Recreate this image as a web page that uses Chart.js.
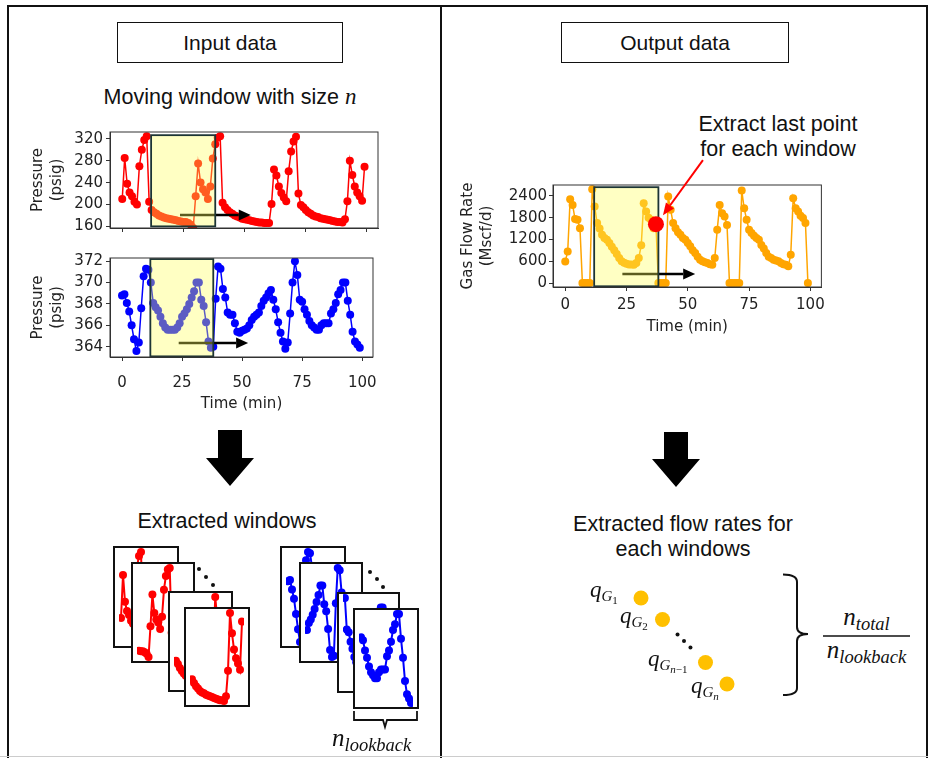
<!DOCTYPE html>
<html>
<head>
<meta charset="UTF-8">
<title>Moving window data extraction</title>
<script src="https://cdn.jsdelivr.net/npm/chart.js@4"></script>
<style>
  body { margin: 0; background: #fff; }
  #page { position: relative; width: 928px; height: 758px; overflow: hidden; font-family: "Liberation Sans", Arial, sans-serif; color: #111; }
  .abs { position: absolute; }
  .frame { position: absolute; left: 7px; top: 5px; width: 917px; height: 770px; border: 2px solid #111; }
  .divider { position: absolute; left: 440px; top: 5px; width: 2px; height: 760px; background: #111; }
  .tbox { position: absolute; top: 22px; height: 39px; border: 1.5px solid #111; font-size: 21px; display: flex; align-items: center; justify-content: center; }
  .lbl { position: absolute; transform: translate(-50%, -50%); white-space: nowrap; font-size: 21.5px; text-align: center; line-height: 25px; }
  .math { font-family: "Liberation Serif", "DejaVu Serif", serif; font-style: italic; white-space: nowrap; position: absolute; line-height: 22px; }
  .math .s1 { font-size: 15px; position: relative; top: 4px; }
  .math .s2 { font-size: 11px; position: relative; top: 3px; font-style: normal; }
  .math .sub { font-size: 18.5px; position: relative; top: 5px; }
  .win { position: absolute; border: 2px solid #111; background: #fff; box-sizing: border-box; }
  .win canvas { display: block; }
  .dot { position: absolute; width: 4px; height: 4px; border-radius: 50%; background: #111; }
  svg { position: absolute; left: 0; top: 0; }
</style>
</head>
<body>
<div id="page">
  <div class="frame"></div>
  <div class="divider"></div>

  <div class="tbox" style="left:117px;width:224px;">Input data</div>
  <div class="tbox" style="left:561px;width:226px;">Output data</div>

  <div class="lbl" style="left:230px;top:97px;">Moving window with size <span style="font-family:'Liberation Serif',serif;font-style:italic;font-size:23px;">n</span></div>
  <div class="lbl" style="left:778px;top:137px;">Extract last point<br>for each window</div>
  <div class="lbl" style="left:227px;top:521px;">Extracted windows</div>
  <div class="lbl" style="left:683px;top:537px;">Extracted flow rates for<br>each windows</div>

  <canvas id="cTop" class="abs" style="left:20px;top:120px;" width="370" height="120"></canvas>
  <canvas id="cBottom" class="abs" style="left:20px;top:246px;" width="370" height="170"></canvas>
  <canvas id="cGas" class="abs" style="left:450px;top:110px;" width="380" height="230"></canvas>

  <!-- extracted windows, back to front -->
  <div class="win red" style="left:113px;top:546px;width:66px;height:102px;"></div>
  <div class="win red" style="left:131px;top:562px;width:64px;height:101px;"></div>
  <div class="win red" style="left:168px;top:591px;width:65px;height:101px;"></div>
  <div class="win red" style="left:184px;top:607px;width:66px;height:100px;"></div>
  <div class="win blue" style="left:280px;top:546px;width:66px;height:102px;"></div>
  <div class="win blue" style="left:299px;top:562px;width:64px;height:101px;"></div>
  <div class="win blue" style="left:337px;top:592px;width:63px;height:101px;"></div>
  <div class="win blue" style="left:353px;top:608px;width:66px;height:101px;"></div>

  <div class="dot" style="left:197px;top:567px;"></div>
  <div class="dot" style="left:204px;top:575px;"></div>
  <div class="dot" style="left:211px;top:583px;"></div>
  <div class="dot" style="left:368px;top:570px;"></div>
  <div class="dot" style="left:375px;top:577px;"></div>
  <div class="dot" style="left:381px;top:585px;"></div>

  <canvas id="cFlow" class="abs" style="left:612px;top:569px;" width="144" height="144"></canvas>

  <div class="math" style="left:590px;top:579px;font-size:23px;">q<span class="s1">G<span class="s2">1</span></span></div>
  <div class="math" style="left:620px;top:605px;font-size:23px;">q<span class="s1">G<span class="s2">2</span></span></div>
  <div class="math" style="left:648px;top:648px;font-size:23px;">q<span class="s1">G<span class="s2"><i>n</i>&minus;1</span></span></div>
  <div class="math" style="left:691px;top:675px;font-size:23px;">q<span class="s1">G<span class="s2"><i>n</i></span></span></div>

  <div class="math" style="left:823px;top:606px;width:87px;text-align:center;font-size:25px;">n<span class="sub">total</span></div>
  <div class="math" style="left:823px;top:639px;width:87px;text-align:center;font-size:25px;">n<span class="sub">lookback</span></div>
  <div class="math" style="left:332px;top:727px;font-size:25px;">n<span class="sub">lookback</span></div>

  <svg width="928" height="758">
    <polygon points="218,430 242,430 242,458 254,458 230,486 206,458 218,458" fill="#000"/>
    <polygon points="664,432 688,432 688,459 700,459 676,487 652,459 664,459" fill="#000"/>
    <path d="M 354 711 L 354 720 L 383 720 L 385 727 L 387 720 L 417 720 L 417 711" fill="none" stroke="#111" stroke-width="1.8"/>
    <path d="M 783 574.5 Q 797 574.5 797 582 L 797 627 Q 797 634 808 634 Q 797 634 797 641 L 797 688 Q 797 695 783 695" fill="none" stroke="#111" stroke-width="2"/>
    <line x1="823" y1="636" x2="910" y2="636" stroke="#111" stroke-width="1.5"/>
    <line x1="0" y1="756.5" x2="928" y2="756.5" stroke="#ccc" stroke-width="1"/>
  </svg>
</div>

<script>
// --- Data (one value per minute) ---
const timeTicks   = [0, 25, 50, 75, 100];
const topTicks    = [160, 200, 240, 280, 320];
const bottomTicks = [364, 366, 368, 370, 372];
const gasTicks    = [0, 600, 1200, 1800, 2400];

// upper pressure, psig
const topPressure = [
  210, 285, 238, 222, 215, 205, 200, 270, 300, 318,
  325, 205, 190, 186, 183, 180, 178, 176, 175, 174,
  173, 172, 171, 170, 169, 168, 168, 166, 163, 157,
  215, 275, 240, 228, 222, 210, 233, 284, 310, 322,
  325, 203, 195, 190, 186, 183, 180, 178, 176, 174,
  173, 172, 171, 170, 169, 168, 167, 167, 166, 166,
  166, 201, 264, 253, 233, 221, 213, 206, 261, 297,
  315, 324, 220, 199, 195, 190, 186, 183, 180, 178,
  177, 175, 174, 173, 172, 171, 170, 169, 168, 168,
  167, 173, 206, 280, 254, 233, 222, 215, 207, 269
];

// lower pressure, psig
const bottomPressure = [
  368.8, 368.9, 368.1, 367.3, 366.0, 364.7, 363.6, 364.4, 367.6, 370.6,
  371.3, 371.2, 370.0, 368.1, 367.7, 367.4, 366.8, 366.2, 365.8, 365.6,
  365.6, 365.6, 365.6, 365.8, 366.2, 366.8, 367.1, 367.5, 368.0, 368.6,
  369.2, 370.0, 370.0, 368.4, 367.8, 366.3, 364.5, 363.9, 364.0, 368.5,
  371.5, 371.3, 369.4, 368.6, 367.2, 367.0, 367.0, 366.2, 365.4, 365.3,
  365.5, 365.6, 365.7, 366.0, 366.5, 366.8, 367.0, 367.2, 367.8, 368.3,
  368.6, 369.0, 369.3, 368.4, 367.5, 366.3, 365.3, 364.5, 363.8, 364.4,
  367.1, 370.0, 372.0, 370.7, 368.4, 368.2, 367.5, 367.0, 366.4, 366.0,
  365.8, 365.6, 365.6, 366.0, 366.2, 366.2, 366.2, 367.1, 367.5, 368.1,
  368.9, 369.3, 370.0, 370.0, 368.3, 367.0, 365.4, 364.5, 364.2, 363.9
];

// gas flow rate, Mscf/d
const gasRate = [
  595, 870, 2310, 2150, 1760, 1740, 1510, 0, 0, 0,
  0, 2580, 2106, 1650, 1500, 1330, 1240, 1190, 1100, 1000,
  900, 800, 690, 600, 560, 530, 510, 510, 505, 550,
  690, 1040, 2200, 1970, 1800, 1740, 1510, 1620, 0, 0,
  0, 0, 2380, 2015, 1650, 1510, 1400, 1330, 1240, 1190,
  1100, 1010, 900, 825, 720, 640, 600, 570, 550, 520,
  505, 690, 1465, 2150, 1920, 1830, 1600, 0, 0, 0,
  0, 0, 2550, 2060, 1740, 1465, 1375, 1300, 1240, 1190,
  1050, 950, 825, 720, 690, 640, 620, 600, 550, 520,
  505, 460, 780, 2335, 2060, 1970, 1850, 1790, 1650, 0
];

const timeMin = gasRate.map((v, i) => i);   // sample index = minute

const windowSpan   = [11.8, 38];   // moving window, min
const lastPoint    = 37;           // last sample inside the window
const windowStarts = [0, 24, 73, 74];
const windowSize   = 26;
const qSteps       = [1, 2, 4, 5];
const skipSteps    = [2.7, 3.0, 3.3];

// --- Helpers ---
const tickFont = { family: 'DejaVu Sans', size: 15 };
const titleFont = { family: 'DejaVu Sans', size: 15, lineHeight: 1.25 };
const ink = '#222';

function arrow(ctx, x0, y0, x1, y1, color, lw, hl, hw) {
  const a = Math.atan2(y1 - y0, x1 - x0);
  const bx = x1 - hl * Math.cos(a), by = y1 - hl * Math.sin(a);
  ctx.save();
  ctx.strokeStyle = color; ctx.fillStyle = color; ctx.lineWidth = lw;
  ctx.beginPath(); ctx.moveTo(x0, y0); ctx.lineTo(bx, by); ctx.stroke();
  ctx.beginPath();
  ctx.moveTo(x1, y1);
  ctx.lineTo(bx + hw * Math.sin(a), by - hw * Math.cos(a));
  ctx.lineTo(bx - hw * Math.sin(a), by + hw * Math.cos(a));
  ctx.closePath(); ctx.fill();
  ctx.restore();
}

const frameBox = {
  id: 'frameBox',
  afterDraw(chart, args, o) {
    if (!o.show) return;
    const a = chart.chartArea, ctx = chart.ctx;
    ctx.save(); ctx.strokeStyle = '#333'; ctx.lineWidth = 1;
    ctx.strokeRect(a.left, a.top, a.right - a.left, a.bottom - a.top);
    ctx.restore();
  },
  defaults: { show: false }
};

const movingWindow = {
  id: 'movingWindow',
  afterDatasetDraw(chart, args, o) {
    if (args.index !== 0 || !o.box) return;
    const { x, y } = chart.scales, ctx = chart.ctx;
    const ay = y.getPixelForValue(o.arrow[2]);
    arrow(ctx, x.getPixelForValue(o.arrow[0]), ay, x.getPixelForValue(o.arrow[1]), ay, '#000', 2.5, 12, 5.5);
    const l = x.getPixelForValue(windowSpan[0]), r = x.getPixelForValue(windowSpan[1]);
    const t = y.getPixelForValue(o.box[1]), b = y.getPixelForValue(o.box[0]);
    ctx.save();
    ctx.fillStyle = 'rgba(255,255,90,0.36)';
    ctx.fillRect(l, t, r - l, b - t);
    ctx.strokeStyle = '#1d3535'; ctx.lineWidth = 1.8;
    ctx.strokeRect(l, t, r - l, b - t);
    ctx.restore();
  },
  afterDraw(chart, args, o) {
    if (!o.pointer) return;
    const p = chart.getDatasetMeta(1).data[0];
    arrow(chart.ctx, p.x + 47, p.y - 64, p.x + 7, p.y - 9, '#ff0000', 2, 12, 5);
  },
  defaults: { box: null, pointer: false }
};

Chart.register(frameBox, movingWindow);

function mainChart(id, series, color, cfg) {
  const datasets = [{
    data: series.map((v, i) => ({ x: timeMin[i], y: v })),
    borderColor: color, backgroundColor: color,
    borderWidth: 1.5, pointRadius: 4, pointBorderWidth: 0, order: 1
  }];
  if (cfg.extra) datasets.push(cfg.extra);
  return new Chart(document.getElementById(id), {
    type: 'line',
    data: { datasets },
    options: {
      responsive: false, animation: false, events: [],
      layout: { padding: cfg.pad },
      plugins: {
        legend: { display: false }, tooltip: { enabled: false },
        frameBox: { show: true }, movingWindow: cfg.win
      },
      scales: {
        x: {
          type: 'linear', min: -5, max: 104.5,
          afterBuildTicks: s => { s.ticks = timeTicks.map(v => ({ value: v })); },
          afterFit: s => { s.height = cfg.xh; },
          grid: { drawOnChartArea: false, tickLength: 4, color: '#333' },
          border: { color: '#333' },
          ticks: { display: cfg.xLabels, padding: cfg.xPad, font: tickFont, color: ink, maxRotation: 0 },
          title: { display: cfg.xLabels, text: 'Time (min)', font: tickFont, color: ink, padding: { top: 0, bottom: cfg.xTitlePad } }
        },
        y: {
          type: 'linear', min: cfg.yMin, max: cfg.yMax,
          afterBuildTicks: s => { s.ticks = cfg.yTicks.map(v => ({ value: v })); },
          afterFit: s => { s.width = cfg.yw; },
          grid: { drawOnChartArea: false, tickLength: 4, color: '#333' },
          border: { color: '#333' },
          ticks: { padding: cfg.yPad, font: tickFont, color: ink, format: { useGrouping: false } },
          title: { display: true, text: cfg.yTitle, font: titleFont, color: ink, padding: { top: cfg.yTitlePad, bottom: 0 } }
        }
      }
    }
  });
}

mainChart('cTop', topPressure, '#ff0000', {
  pad: { top: 8, right: 12, left: 0, bottom: 0 }, xh: 9, xLabels: false, xPad: 0, xTitlePad: 0,
  yMin: 157, yMax: 332.6, yTicks: topTicks, yw: 90, yPad: 3,
  yTitle: ['Pressure', '(psig)'], yTitlePad: 8.5,
  win: { box: [160, 326.8], arrow: [23.6, 52.5, 181] }
});

mainChart('cBottom', bottomPressure, '#0000ff', {
  pad: { top: 8, right: 12, left: 0, bottom: 0 }, xh: 59, xLabels: true, xPad: 13, xTitlePad: 3,
  yMin: 363.04, yMax: 372.3, yTicks: bottomTicks, yw: 90, yPad: 3,
  yTitle: ['Pressure', '(psig)'], yTitlePad: 8.5,
  win: { box: [363.1, 372.2], arrow: [23.6, 52.5, 364.35] }
});

mainChart('cGas', gasRate, '#ffa500', {
  pad: { top: 75, right: 8, left: 0, bottom: 0 }, xh: 53, xLabels: true, xPad: 5, xTitlePad: 4,
  yMin: -110, yMax: 2700, yTicks: gasTicks, yw: 103, yPad: 2,
  yTitle: ['Gas Flow Rate', '(Mscf/d)'], yTitlePad: 8.5,
  win: { box: [-90, 2640], arrow: [23.3, 53, 250], pointer: true },
  extra: {
    data: [{ x: timeMin[lastPoint], y: gasRate[lastPoint] }],
    showLine: false, pointRadius: 8, pointBorderWidth: 0,
    backgroundColor: '#ff0000', borderColor: '#ff0000', order: -1
  }
});

// --- Extracted windows ---
function windowChart(box, series, color, start) {
  const c = document.createElement('canvas');
  c.width = box.clientWidth; c.height = box.clientHeight;
  box.appendChild(c);
  const data = series.slice(start, start + windowSize).map((v, i) => ({ x: i, y: v }));
  new Chart(c, {
    type: 'line',
    data: { datasets: [{ data, borderColor: color, backgroundColor: color, borderWidth: 2, pointRadius: 4, pointBorderWidth: 0 }] },
    options: {
      responsive: false, animation: false, events: [],
      layout: { padding: 1 },
      plugins: { legend: { display: false }, tooltip: { enabled: false } },
      scales: {
        x: { type: 'linear', display: false, min: -1, max: windowSize },
        y: { type: 'linear', display: false, bounds: 'data', grace: '6%' }
      }
    }
  });
}

document.querySelectorAll('.win.red').forEach((b, i) => windowChart(b, topPressure, '#ff0000', windowStarts[i]));
document.querySelectorAll('.win.blue').forEach((b, i) => windowChart(b, bottomPressure, '#0000ff', windowStarts[i]));

// --- Extracted flow rates ---
new Chart(document.getElementById('cFlow'), {
  type: 'scatter',
  data: {
    datasets: [
      { data: qSteps.map(s => ({ x: s, y: s })), pointRadius: 7.5, pointBorderWidth: 0, backgroundColor: '#ffc000' },
      { data: skipSteps.map(s => ({ x: s, y: s })), pointRadius: 2, pointBorderWidth: 0, backgroundColor: '#111' }
    ]
  },
  options: {
    responsive: false, animation: false, events: [],
    layout: { padding: 0 },
    plugins: { legend: { display: false }, tooltip: { enabled: false } },
    scales: {
      x: { type: 'linear', display: false, min: 0, max: 6 },
      y: { type: 'linear', display: false, min: 0, max: 6, reverse: true }
    }
  }
});
</script>
</body>
</html>
